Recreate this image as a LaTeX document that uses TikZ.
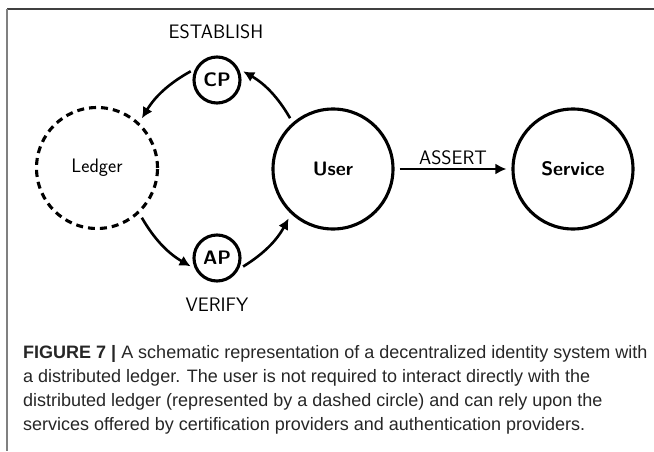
\documentclass[tikz,border=0pt]{standalone}
\usepackage{fontspec}
\newfontfamily\capfont{Liberation Sans}
\usetikzlibrary{arrows.meta}

\begin{document}
\begin{tikzpicture}[x=1pt,y=1pt,
    party/.style={circle,draw,line width=3.1pt,inner sep=0pt,font=\sffamily\bfseries\fontsize{19.5}{23}\selectfont},
    tag/.style={font=\sffamily\fontsize{19.5}{23}\selectfont},
    arr/.style={-{Latex[length=11pt,width=11pt]},line width=2.6pt,shorten <=5pt,shorten >=5pt},
    capline/.style={anchor=base west,inner sep=0pt,font=\capfont\fontsize{18}{22}\selectfont,text=black!85}]
    \useasboundingbox (0,0) rectangle (654,451);
    % frame
    \draw [line width=1.5pt,black!75] (654,442)--(7,442);
    \draw [line width=2pt,black!50] (7,442)--(7,0);

    % parties
    \node [party,dashed,dash pattern=on 7pt off 5pt,minimum size=121pt,font=\sffamily\fontsize{19.5}{23}\selectfont] (ledger) at (97,283) {Ledger};
    \node [party,minimum size=120pt] (user) at (333,282) {User};
    \node [party,minimum size=120pt] (service) at (573,282) {Service};
    \node [party,minimum size=46pt] (cp) at (217,371) {CP};
    \node [party,minimum size=46pt] (ap) at (217,193) {AP};
    \node [tag] (establish) at (216,419) {ESTABLISH};
    \node [tag] (verify) at (217,146) {VERIFY};

    \draw [arr] (user.131) to[bend right=15] (cp.27);
    \draw [arr] (cp.153) to[bend right=15] (ledger.47);
    \draw [arr] (ledger.-47) to[bend right=15] (ap.206);
    \draw [arr] (ap.-27) to[bend right=15] (user.227);
    \draw [arr] (user)--(service) node[midway,above,tag] {ASSERT};

    % caption
    \node [capline] (cap1) at (23,93) {\textbf{FIGURE 7 |} A schematic representation of a decentralized identity system with};
    \node [capline] (cap2) at (23,69) {a distributed ledger. The user is not required to interact directly with the};
    \node [capline] (cap3) at (23,45) {distributed ledger (represented by a dashed circle) and can rely upon the};
    \node [capline] (cap4) at (23,21) {services offered by certification providers and authentication providers.};
\end{tikzpicture}
\end{document}
